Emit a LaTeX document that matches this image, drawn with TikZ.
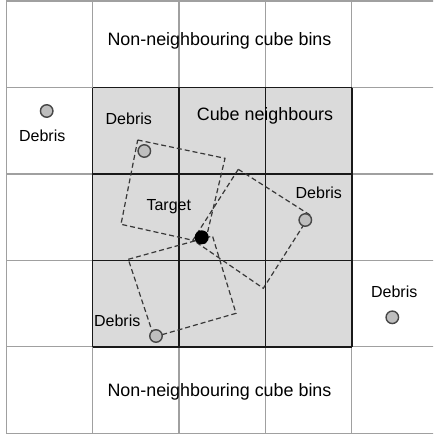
\documentclass[tikz,border=0pt]{standalone}
\usepackage{fontspec}
\setmainfont{Liberation Sans}
\definecolor{gridgray}{RGB}{160,160,160}
\definecolor{cellfill}{RGB}{218,218,218}
\definecolor{debrisgray}{RGB}{190,190,190}
\begin{document}
\begin{tikzpicture}[x=1pt,y=-1pt,
  binline/.style={draw=gridgray,line width=1.1pt},
  nbrline/.style={draw=black!90,line width=1.4pt},
  reach/.style={draw=black!78,dash pattern=on 5pt off 3pt,line width=1.2pt},
  debris/.style={circle,draw=black!72,fill=debrisgray,line width=1.4pt,minimum size=12.5pt,inner sep=0pt},
  target/.style={circle,fill=black,minimum size=14pt,inner sep=0pt},
  lbl/.style={font=\fontsize{16}{18}\selectfont,anchor=base,inner sep=0pt},
  biglbl/.style={font=\fontsize{17.9}{20}\selectfont,anchor=base,inner sep=0pt}]

  % canvas
  \useasboundingbox (0,0) rectangle (433,435);
  \fill[white] (0,0) rectangle (433,435);
  \begin{scope}
    \clip (0,0) rectangle (433,435);
    % neighbouring cube bins
    \fill[cellfill] (92.6,87.6) rectangle (351.8,346.8);
    % full bin grid
    \foreach \gx in {6.2,92.6,179,265.4,351.8,438.2}
      \draw[binline] (\gx,1.0) -- (\gx,433.2);
    \foreach \gy in {1.0,87.6,174,260.4,346.8,433.2}
      \draw[binline] (6.2,\gy) -- (438.2,\gy);
    % neighbour block grid
    \foreach \gx in {92.6,179,265.4,351.8}
      \draw[nbrline] (\gx,87.6) -- (\gx,346.8);
    \foreach \gy in {87.6,174,260.4,346.8}
      \draw[nbrline] (92.6,\gy) -- (351.8,\gy);
  \end{scope}

  % search squares between target and debris
  \coordinate (a1) at (137.7,140);
  \coordinate (a2) at (225,158.3);
  \coordinate (a3) at (205,243);
  \coordinate (a4) at (121,224.3);
  \coordinate (b1) at (238.3,169.3);
  \coordinate (b2) at (310,215);
  \coordinate (b3) at (263.3,288.3);
  \coordinate (b4) at (193,240);
  \coordinate (c1) at (128.3,259.3);
  \coordinate (c2) at (212.5,236);
  \coordinate (c3) at (236,313.3);
  \coordinate (c4) at (154,337);
  \draw[reach] (a1) -- (a2) -- (a3) -- (a4) -- cycle;
  \draw[reach] (b1) -- (b2) -- (b3) -- (b4) -- cycle;
  \draw[reach] (c1) -- (c2) -- (c3) -- (c4) -- cycle;

  % objects
  \node[debris] (d1) at (144.3,151) {};
  \node[debris] (d2) at (305.3,220) {};
  \node[debris] (d3) at (156,336) {};
  \node[debris] (d4) at (46.7,111) {};
  \node[debris] (d5) at (392.3,317.3) {};
  \node[target] (tg) at (201.7,237.3) {};

  % labels
  \node[biglbl] (top) at (219.5,46) {Non-neighbouring cube bins};
  \node[biglbl] (bot) at (219.5,396.7) {Non-neighbouring cube bins};
  \node[biglbl] (cn) at (265,120.7) {Cube neighbours};
  \node[lbl] (ld1) at (128.8,124.3) {Debris};
  \node[lbl] (ld2) at (318.8,199) {Debris};
  \node[lbl] (ld3) at (117.2,326) {Debris};
  \node[lbl] (ld4) at (42.2,141.7) {Debris};
  \node[lbl] (ld5) at (394.2,297.3) {Debris};
  \node[lbl] (lt) at (168.8,210.5) {Target};
\end{tikzpicture}
\end{document}
